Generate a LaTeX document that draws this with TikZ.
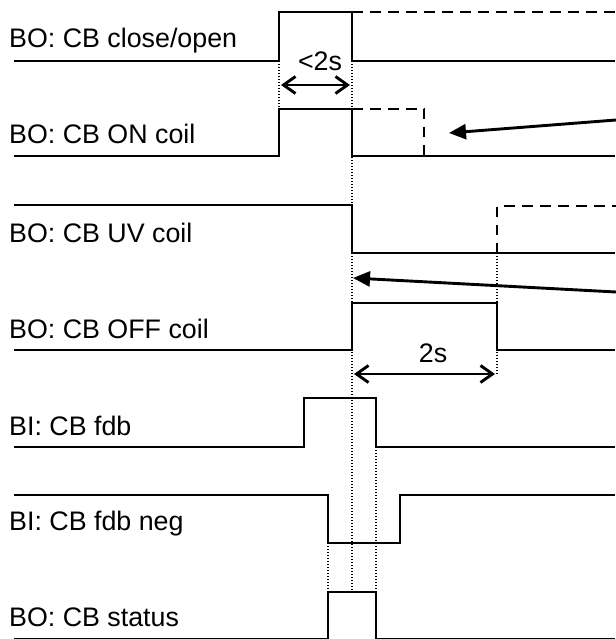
\documentclass[tikz,border=0pt]{standalone}
\usepackage{fontspec}
\setmainfont{Liberation Sans}
\usetikzlibrary{arrows.meta}
\begin{document}
\begin{tikzpicture}[x=1pt,y=-1pt,
  sig/.style={line width=2.9pt,line join=miter},
  dsig/.style={line width=2.9pt,dash pattern=on 10.5pt off 7.5pt},
  guide/.style={line width=1.1pt,dash pattern=on 1.1pt off 1.9pt},
  lbl/.style={anchor=base west,inner sep=0pt,font=\fontsize{26.8}{30}\selectfont},
  tlbl/.style={anchor=base,inner sep=0pt,font=\fontsize{26.8}{30}\selectfont},
  dim/.style={line width=2.9pt,{Straight Barb[length=12pt,width=17pt]}-{Straight Barb[length=12pt,width=17pt]}},
  pointer/.style={line width=2.9pt,-{Triangle[length=17pt,width=15pt]}}]
\useasboundingbox (0,0) rectangle (615,639);
\fill[white] (0,0) rectangle (615,639);
% guides (dotted)
\draw[guide] (279,61) -- (279,109);
\draw[guide] (352,61) -- (352,592);
\draw[guide] (497,253) -- (497,375);
\draw[guide] (328,543) -- (328,592);
\draw[guide] (376,447) -- (376,592);
% labels
\node[lbl] (l1) at (9,48) {BO: CB close/open};
\node[lbl] (l2) at (9,144) {BO: CB ON coil};
\node[lbl] (l3) at (9,242) {BO: CB UV coil};
\node[lbl] (l4) at (9,338) {BO: CB OFF coil};
\node[lbl] (l5) at (9,435) {BI: CB fdb};
\node[lbl] (l6) at (9,530) {BI: CB fdb neg};
\node[lbl] (l7) at (9,626.5) {BO: CB status};
% signals
\draw[sig] (14,61) -- (279,61) -- (279,12) -- (352,12) -- (352,61) -- (615,61);
\draw[dsig] (352,12) -- (616,12);
\draw[sig] (14,156) -- (279,156) -- (279,109) -- (352,109) -- (352,156) -- (615,156);
\draw[dsig] (352,109) -- (424,109) -- (424,156);
\draw[sig] (14,205) -- (352,205) -- (352,253) -- (615,253);
\draw[dsig] (497,253) -- (497,206) -- (616,206);
\draw[sig] (14,350) -- (352,350) -- (352,303) -- (497,303) -- (497,350) -- (615,350);
\draw[sig] (14,447) -- (304,447) -- (304,398) -- (376,398) -- (376,447) -- (615,447);
\draw[sig] (14,495) -- (328,495) -- (328,543) -- (400,543) -- (400,495) -- (615,495);
\draw[sig] (14,639.5) -- (328,639.5) -- (328,592) -- (376,592) -- (376,639.5) -- (615,639.5);
% dimensions
\coordinate (a1) at (281,85);
\coordinate (a2) at (350,85);
\draw[dim] (a1) -- (a2);
\node[tlbl] (t1) at (320,71) {<2s};
\coordinate (b1) at (354,374);
\coordinate (b2) at (495,374);
\draw[dim] (b1) -- (b2);
\node[tlbl] (t2) at (433,362) {2s};
% pointers
\coordinate (p1s) at (616,120);
\coordinate (p1e) at (449,133);
\draw[pointer] (p1s) -- (p1e);
\coordinate (p2s) at (616,292);
\coordinate (p2e) at (353,278);
\draw[pointer] (p2s) -- (p2e);
\end{tikzpicture}
\end{document}
